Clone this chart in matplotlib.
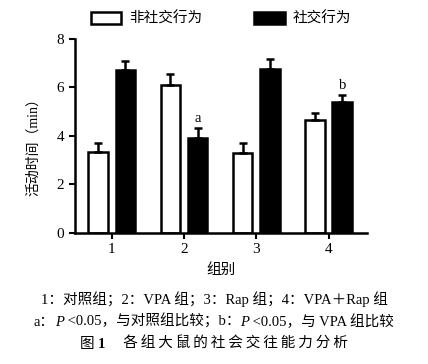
import matplotlib
matplotlib.use("Agg")
import matplotlib.pyplot as plt
import numpy as np

plt.rcParams['font.family'] = ['Liberation Serif', 'Noto Sans CJK SC']

# 数据
groups = ["1", "2", "3", "4"]
non_social = [3.34, 6.10, 3.30, 4.66]
non_social_err = [0.36, 0.46, 0.42, 0.27]
social = [6.72, 3.92, 6.76, 5.38]
social_err = [0.37, 0.41, 0.42, 0.30]
sig_labels = ["", "a", "", "b"]

fig = plt.figure(figsize=(4.28, 3.64), dpi=100)
ax = fig.add_axes([0.175, 0.36, 0.682, 0.533])

x = np.arange(1, len(groups) + 1)
w = 0.27
off = 0.19

ax.bar(x - off, non_social, w, color='white', edgecolor='black', linewidth=1.8,
       yerr=[np.zeros(4), non_social_err], capsize=3,
       error_kw=dict(elinewidth=1.8, capthick=1.8, ecolor='black'), label='非社交行为')
ax.bar(x + off, social, w, color='black', edgecolor='black', linewidth=1.8,
       yerr=[np.zeros(4), social_err], capsize=3,
       error_kw=dict(elinewidth=1.8, capthick=1.8, ecolor='black'), label='社交行为')

for i, s in enumerate(sig_labels):
    if s:
        ax.text(x[i] + off, social[i] + social_err[i] + 0.12, s, ha='center', va='bottom', fontsize=10.5)

ax.set_xlim(0.49, 4.53)
ax.set_ylim(0, 8)
ax.set_xticks(x)
ax.set_xticklabels(groups)
ax.set_yticks([0, 2, 4, 6, 8])
for s in ['top', 'right']:
    ax.spines[s].set_visible(False)
for s in ['left', 'bottom']:
    ax.spines[s].set_linewidth(1.8)
ax.tick_params(direction='out', width=1.5, length=4, labelsize=11)
ax.set_ylabel('活动时间（min）', fontsize=10, labelpad=4)
ax.yaxis.set_label_coords(-0.12, 0.46)
ax.set_xlabel('组别', fontsize=10.5, labelpad=5)

ax.legend(loc='lower center', bbox_to_anchor=(0.5, 1.0), ncol=2, frameon=False,
          fontsize=10.5, handlelength=2.1, handleheight=0.9, columnspacing=3.6,
          handletextpad=0.5)

fs = 10.5
fig.canvas.draw()
r = fig.canvas.get_renderer()


def rich_line(y, pieces):
    # 分段绘制一行文字并整体居中
    objs = [fig.text(0, y, t, fontsize=fs, style=st, weight=wt) for t, st, wt in pieces]
    widths = [o.get_window_extent(r).width for o in objs]
    xpos = (fig.bbox.width - sum(widths)) / 2
    for o, wd in zip(objs, widths):
        o.set_x(xpos / fig.bbox.width)
        xpos += wd


rich_line(0.165, [('1：对照组；2：VPA 组；3：Rap 组；4：VPA＋Rap 组', 'normal', 'normal')])
rich_line(0.105, [('a：', 'normal', 'normal'), ('P', 'italic', 'normal'),
                  (' <0.05，与对照组比较；b：', 'normal', 'normal'),
                  ('P', 'italic', 'normal'), (' <0.05，与 VPA 组比较', 'normal', 'normal')])
rich_line(0.045, [('图 ', 'normal', 'normal'), ('1', 'normal', 'bold'),
                  ('　 ' + '\u2009'.join('各组大鼠的社会交往能力分析'), 'normal', 'normal')])

fig.savefig('out.png', dpi=100)
